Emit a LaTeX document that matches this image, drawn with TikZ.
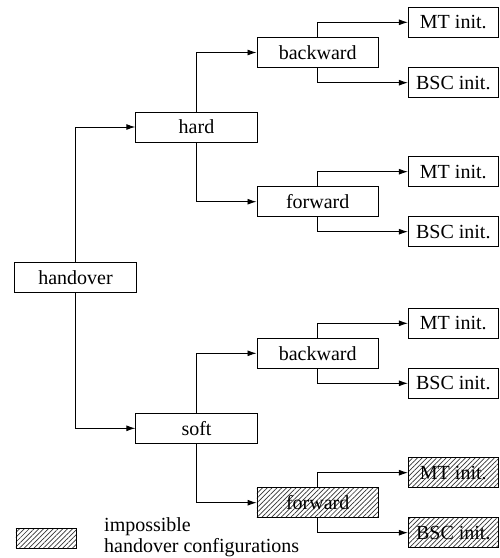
\documentclass[tikz,border=0pt]{standalone}
\usepackage{fontspec}
\setmainfont{Liberation Serif}
\newfontfamily\tmsfont{Liberation Serif}
\usetikzlibrary{arrows.meta,patterns.meta}
\begin{document}
\begin{tikzpicture}[x=1pt,y=-1pt,
  font=\tmsfont\fontsize{20}{21}\selectfont,
  box/.style={draw=black,line width=0.9pt,fill=white,inner sep=0pt,minimum height=30pt,minimum width=121.5pt},
  ibox/.style={box,minimum width=90pt},
  hatch/.style={pattern={Lines[angle=45,distance=3.4pt,line width=0.7pt]},pattern color=black!80},
  conn/.style={line width=0.9pt,-{Latex[length=9pt,width=6pt]}}]
\useasboundingbox (0,0) rectangle (499,558);
\node[box] (ho) at (75.5,277.5) {handover};
\node[box] (hard) at (196.5,127) {hard};
\node[box] (soft) at (196.5,428.3) {soft};
\node[box] (bw1) at (317.7,52.5) {backward};
\node[box] (fw1) at (317.7,201.7) {forward};
\node[box] (bw2) at (317.7,353.3) {backward};
\node[box,hatch] (fw2) at (317.7,502.7) {forward};
\node[ibox] (m1) at (453.3,22.3) {MT init.};
\node[ibox] (b1) at (453.3,82.7) {BSC init.};
\node[ibox] (m2) at (453.3,171.7) {MT init.};
\node[ibox] (b2) at (453.3,231.7) {BSC init.};
\node[ibox] (m3) at (453.3,323.3) {MT init.};
\node[ibox] (b3) at (453.3,383.3) {BSC init.};
\node[ibox,hatch] (m4) at (453.3,472.7) {MT init.};
\node[ibox,hatch] (b4) at (453.3,532.7) {BSC init.};
\draw[conn] (ho.north) |- (hard.west);
\draw[conn] (ho.south) |- (soft.west);
\draw[conn] (hard.north) |- (bw1.west);
\draw[conn] (hard.south) |- (fw1.west);
\draw[conn] (soft.north) |- (bw2.west);
\draw[conn] (soft.south) |- (fw2.west);
\draw[conn] (bw1.north) |- (m1.west);
\draw[conn] (bw1.south) |- (b1.west);
\draw[conn] (fw1.north) |- (m2.west);
\draw[conn] (fw1.south) |- (b2.west);
\draw[conn] (bw2.north) |- (m3.west);
\draw[conn] (bw2.south) |- (b3.west);
\draw[conn] (fw2.north) |- (m4.west);
\draw[conn] (fw2.south) |- (b4.west);
\node[box,hatch,minimum width=60.7pt,minimum height=20pt] (leg) at (46.3,538.3) {};
\node[anchor=north west,align=left,inner sep=0pt] (legt) at (104,517) {impossible\\handover configurations};
\end{tikzpicture}
\end{document}
